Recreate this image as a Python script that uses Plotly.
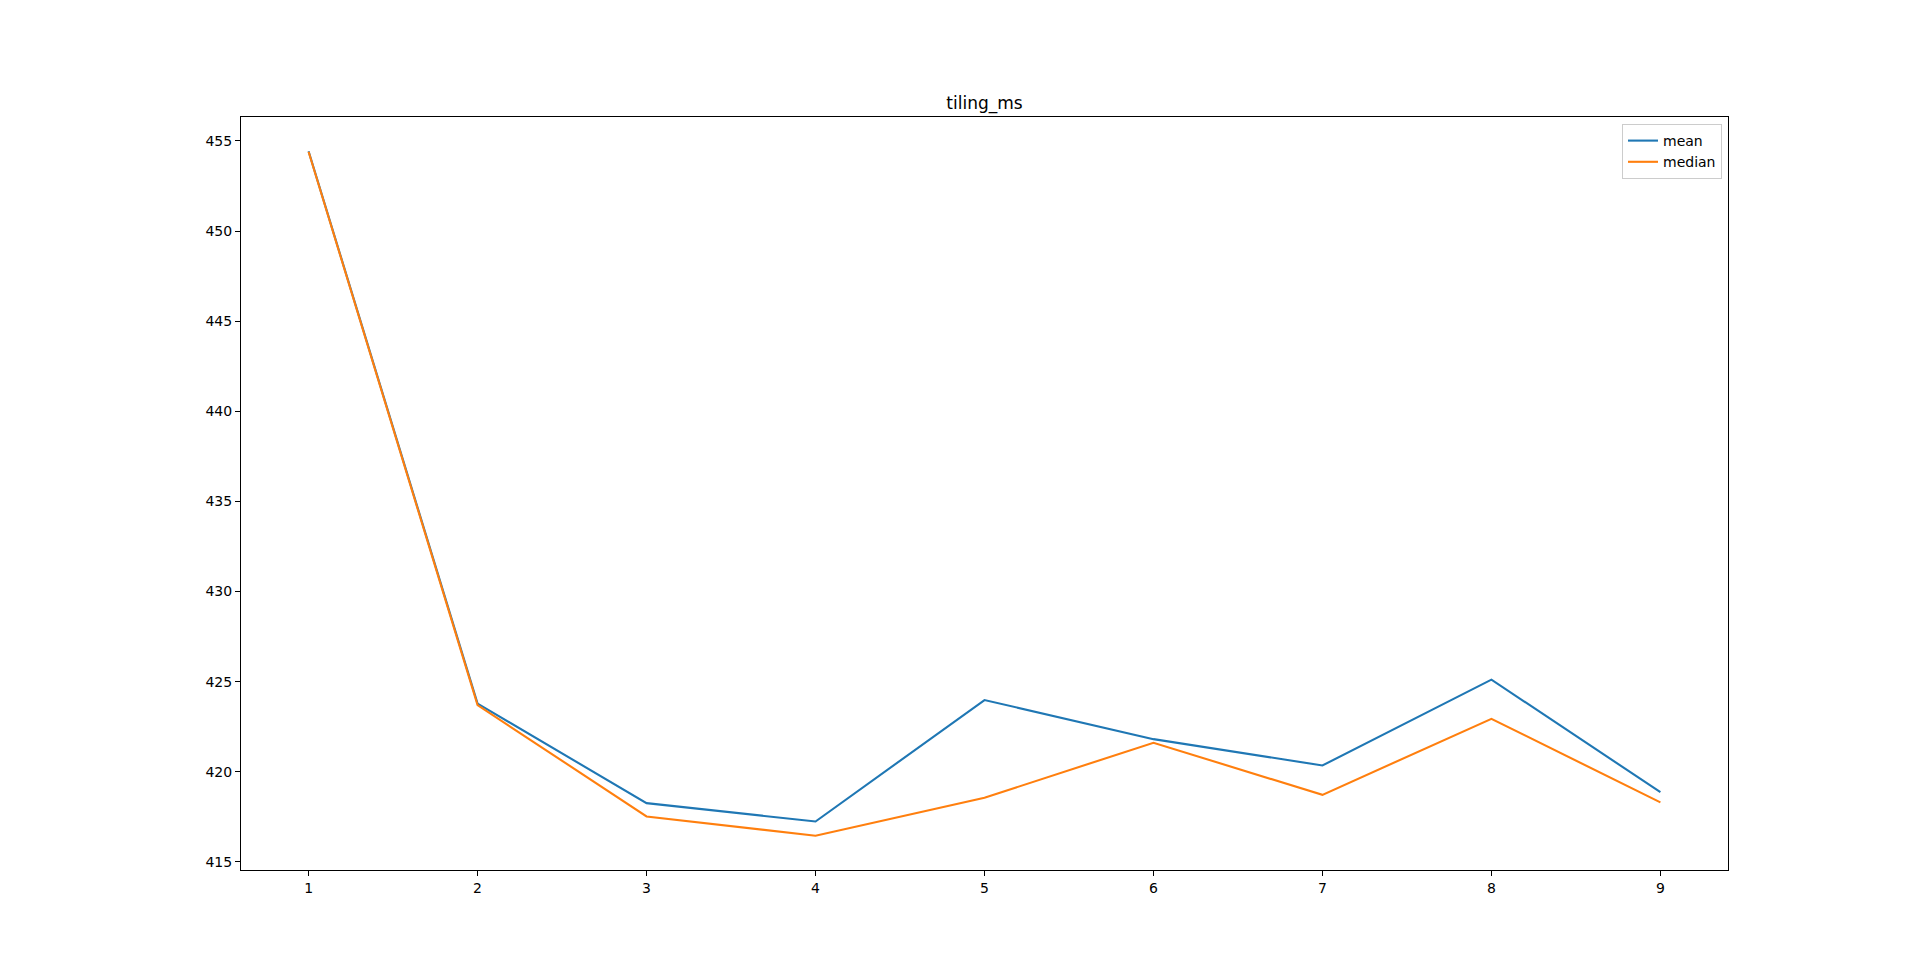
import plotly.graph_objects as go

x_vals = [1, 2, 3, 4, 5, 6, 7, 8, 9]
mean_vals = [454.43, 423.78, 418.26, 417.24, 423.98, 421.81, 420.35, 425.11, 418.87]
median_vals = [454.40, 423.70, 417.52, 416.45, 418.56, 421.61, 418.72, 422.94, 418.30]
y_ticks = [415, 420, 425, 430, 435, 440, 445, 450, 455]
x_ticks = [1, 2, 3, 4, 5, 6, 7, 8, 9]

font_family = "DejaVu Sans"

fig = go.Figure()
fig.add_trace(go.Scatter(x=x_vals, y=mean_vals, mode="lines", name="mean",
                         line=dict(color="#1f77b4", width=2.1)))
fig.add_trace(go.Scatter(x=x_vals, y=median_vals, mode="lines", name="median",
                         line=dict(color="#ff7f0e", width=2.1)))

# page body has an 8px margin; figure sized so that page is exactly 1920x977
W, H = 1904, 961
l, r, t, b = 233, 184, 109, 99

axis_common = dict(showgrid=False, zeroline=False, showline=True, linecolor="black",
                   linewidth=1.1, mirror=True, ticks="outside", ticklen=5, tickwidth=1.1,
                   tickcolor="black", tickfont=dict(family=font_family, size=14, color="black"))

fig.update_layout(
    width=W, height=H,
    margin=dict(l=l, r=r, t=t, b=b),
    paper_bgcolor="white", plot_bgcolor="white",
    font=dict(family=font_family, size=14, color="black"),
    title=dict(text="tiling_ms", x=0.5, xref="paper", xanchor="center",
               y=1 - 95 / H, yref="container", yanchor="middle",
               font=dict(family=font_family, size=17, color="black")),
    xaxis=dict(range=[0.6, 9.4], tickvals=x_ticks, **axis_common),
    yaxis=dict(range=[414.55, 456.33], tickvals=y_ticks, **axis_common),
    legend=dict(x=(1722 - 241) / (1728 - 241), y=(870 - 124) / (870 - 117),
                xanchor="right", yanchor="top",
                bgcolor="rgba(255,255,255,0.8)", bordercolor="#cccccc", borderwidth=1,
                font=dict(family=font_family, size=14, color="black"),
                tracegroupgap=0, itemwidth=30),
    showlegend=True,
)

fig.write_html("out.html")
